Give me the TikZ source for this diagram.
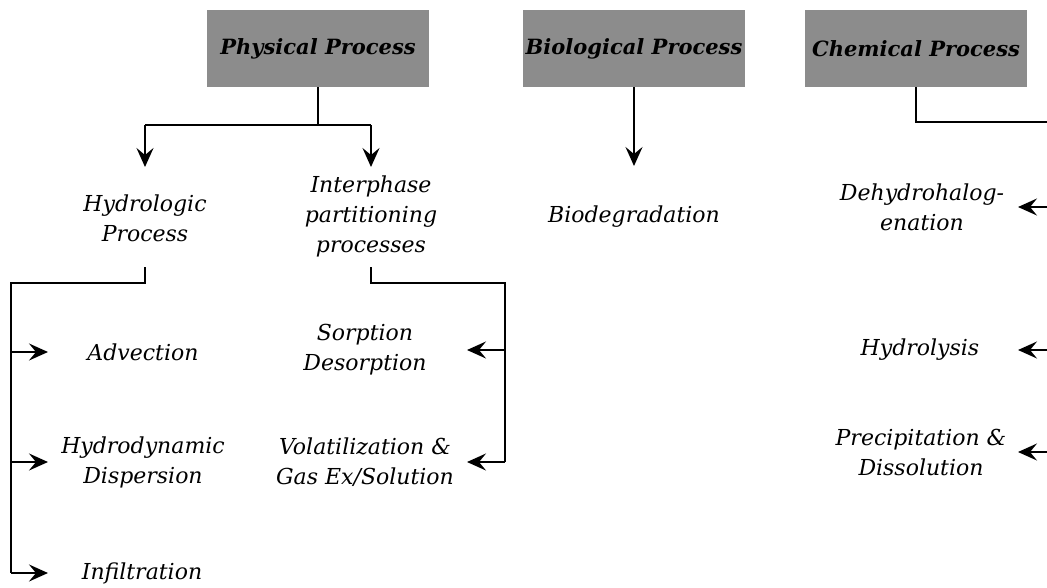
\documentclass[tikz,border=0pt]{standalone}
\usepackage{fontspec}
\setmainfont{DejaVu Serif}
\usetikzlibrary{arrows.meta}
\begin{document}
\begin{tikzpicture}[x=1pt,y=-1pt,
  head/.style={fill=black!45, minimum width=222pt, minimum height=77pt, inner sep=0pt,
               font=\fontsize{21}{24}\selectfont\bfseries\itshape},
  item/.style={align=center, inner sep=2pt, font=\fontsize{22}{30}\selectfont\itshape},
  link/.style={line width=1.8pt},
  arr/.style={link, -{Stealth[length=19pt,width=17pt,inset=7pt]}}
]
\useasboundingbox (0,0) rectangle (1047,587);

% top-level process boxes
\node[head] (phys) at (318,48.5) {Physical Process};
\node[head] (bio)  at (634,48.5) {Biological Process};
\node[head] (chem) at (916,48.5) {Chemical Process};

% second level
\node[item] (hydro) at (145,218) {Hydrologic\\Process};
\node[item] (inter) at (371,216) {Interphase\\partitioning\\processes};
\node[item] (biodeg) at (634,217) {Biodegradation};

% physical sub-processes
\node[item] (adv)   at (143,352) {Advection};
\node[item] (disp)  at (143,462) {Hydrodynamic\\Dispersion};
\node[item] (infil) at (142,573) {Infiltration};
\node[item] (sorp)  at (365,350) {Sorption\\Desorption};
\node[item] (volat) at (365,462) {Volatilization \&\\Gas Ex/Solution};

% chemical sub-processes
\node[item] (dehy)  at (922,207) {Dehydrohalog-\\enation};
\node[item] (hydrl) at (920,350) {Hydrolysis};
\node[item] (prec)  at (921,452) {Precipitation \&\\Dissolution};

% helper coordinates for bars and arrow tips
\coordinate (pbar)  at (0,125);
\coordinate (ptip)  at (0,167);
\coordinate (btip)  at (0,166);
\coordinate (sy)    at (0,267);
\coordinate (hbend) at (11,283);
\coordinate (lx)    at (11,0);
\coordinate (ltip)  at (48,0);
\coordinate (ibend) at (505,283);
\coordinate (rx)    at (505,0);
\coordinate (rtip)  at (467,0);
\coordinate (cend)  at (1047,122);
\coordinate (cx)    at (1047,0);
\coordinate (ctip)  at (1018,0);

% physical branch
\draw[link] (phys.south) -- (phys.south |- pbar);
\draw[link] (hydro |- pbar) -- (inter |- pbar);
\draw[arr] (hydro |- pbar) -- (hydro |- ptip);
\draw[arr] (inter |- pbar) -- (inter |- ptip);

% biological branch
\draw[arr] (bio.south) -- (bio |- btip);

% chemical branch
\draw[link] (chem.south) |- (cend);
\foreach \n in {dehy,hydrl,prec}
  \draw[arr] (cx |- \n) -- (ctip |- \n);

% hydrologic bracket
\draw[link] (hydro |- sy) |- (hbend) -- (lx |- infil);
\foreach \n in {adv,disp,infil}
  \draw[arr] (lx |- \n) -- (ltip |- \n);

% interphase bracket
\draw[link] (inter |- sy) |- (ibend) -- (rx |- volat);
\foreach \n in {sorp,volat}
  \draw[arr] (rx |- \n) -- (rtip |- \n);
\end{tikzpicture}
\end{document}
